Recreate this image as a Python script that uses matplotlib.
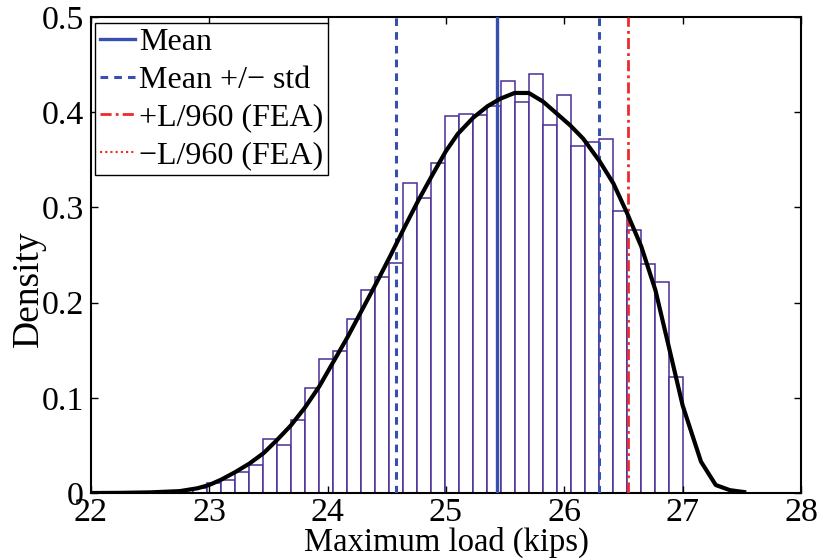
import numpy as np
from matplotlib import pyplot as plt

# Histogram of maximum load
bin_start = 22.625
bin_stop = 27.0
density = [0.001, 0.003, 0.005, 0.011, 0.014, 0.022, 0.029, 0.057, 0.050, 0.077,
           0.110, 0.141, 0.149, 0.183, 0.213, 0.227, 0.242, 0.325, 0.310, 0.347,
           0.396, 0.398, 0.397, 0.406, 0.433, 0.410, 0.440, 0.386, 0.418, 0.364,
           0.369, 0.372, 0.296, 0.276, 0.240, 0.222, 0.122]

# Fitted density curve
fit_x = [22.0, 22.25, 22.5, 22.75, 22.9, 23.0, 23.1, 23.22, 23.34, 23.46,
         23.575, 23.69, 23.81, 23.93, 24.05, 24.17, 24.29, 24.41, 24.53, 24.65,
         24.77, 24.89, 25.0, 25.1, 25.23, 25.35, 25.46, 25.58, 25.70, 25.82,
         25.94, 26.05, 26.16, 26.30, 26.415, 26.53, 26.65, 26.77, 26.89, 27.0,
         27.155, 27.28, 27.40, 27.52]
fit_y = [0.0, 0.0002, 0.0007, 0.002, 0.005, 0.0085, 0.014, 0.022, 0.031, 0.042,
         0.056, 0.071, 0.090, 0.112, 0.138, 0.164, 0.192, 0.220, 0.249, 0.279,
         0.308, 0.335, 0.359, 0.377, 0.394, 0.406, 0.414, 0.420, 0.420, 0.411,
         0.398, 0.386, 0.372, 0.348, 0.325, 0.294, 0.259, 0.213, 0.150, 0.092,
         0.033, 0.0084, 0.003, 0.001]

mean_load = 25.435
std_load = 0.858
plus_fea = 26.538
minus_fea = 25.44

plt.rcParams['font.family'] = ['Liberation Serif', 'DejaVu Serif']
plt.rcParams['font.size'] = 22

fig = plt.figure(figsize=(8.19, 5.59), dpi=100)
ax = fig.add_axes([0.111, 0.118, 0.867, 0.852])

edges = np.linspace(bin_start, bin_stop, len(density) + 1)
ax.bar(edges[:-1], density, width=np.diff(edges), align='edge',
       facecolor='white', edgecolor='#4b2e96', linewidth=1.1, zorder=1)

blue = '#3650b0'
red = '#ee2a2a'
ax.axvline(minus_fea, color=red, linestyle=(0, (1, 1.5)), linewidth=1.5,
           label='\u2212L/960 (FEA)', zorder=2)
ax.axvline(mean_load, color=blue, linestyle='-', linewidth=2.4, label='Mean', zorder=3)
ax.axvline(mean_load - std_load, color=blue, linestyle=(0, (2.5, 2)), linewidth=2.2,
           label='Mean +/\u2212 std', zorder=3)
ax.axvline(mean_load + std_load, color=blue, linestyle=(0, (2.5, 2)), linewidth=2.2, zorder=3)
ax.axvline(plus_fea, color=red, linestyle=(0, (4, 1.5, 1, 1.5)), linewidth=2,
           label='+L/960 (FEA)', zorder=3)

ax.plot(fit_x, fit_y, color='k', linewidth=3, zorder=4)

ax.set_xlim(22, 28)
ax.set_ylim(0, 0.5)
ax.set_xticks([22, 23, 24, 25, 26, 27, 28])
ax.set_yticks([0, 0.1, 0.2, 0.3, 0.4, 0.5])
ax.set_yticklabels(['0', '0.1', '0.2', '0.3', '0.4', '0.5'])
ax.tick_params(direction='in', length=5, width=1, top=True, right=True,
               labelsize=24.5, pad=5)
ax.tick_params(axis='x', pad=3)
for s in ax.spines.values():
    s.set_linewidth(1.5)

ax.set_xlabel('Maximum load (kips)', fontsize=23.5, labelpad=-1)
ax.set_ylabel('Density', fontsize=27)
ax.yaxis.set_label_coords(-0.064, 0.43)

handles, labels = ax.get_legend_handles_labels()
order = [labels.index(n) for n in ['Mean', 'Mean +/\u2212 std', '+L/960 (FEA)', '\u2212L/960 (FEA)']]
leg = ax.legend([handles[i] for i in order], [labels[i] for i in order],
                loc='upper left', bbox_to_anchor=(0.006, 0.987), fancybox=False,
                framealpha=1, edgecolor='k', handlelength=1.1, handletextpad=0.12,
                labelspacing=0.26, borderpad=0.15, borderaxespad=0.0,
                fontsize=23)
leg.get_frame().set_linewidth(1)

plt.savefig('out.png', dpi=100)
